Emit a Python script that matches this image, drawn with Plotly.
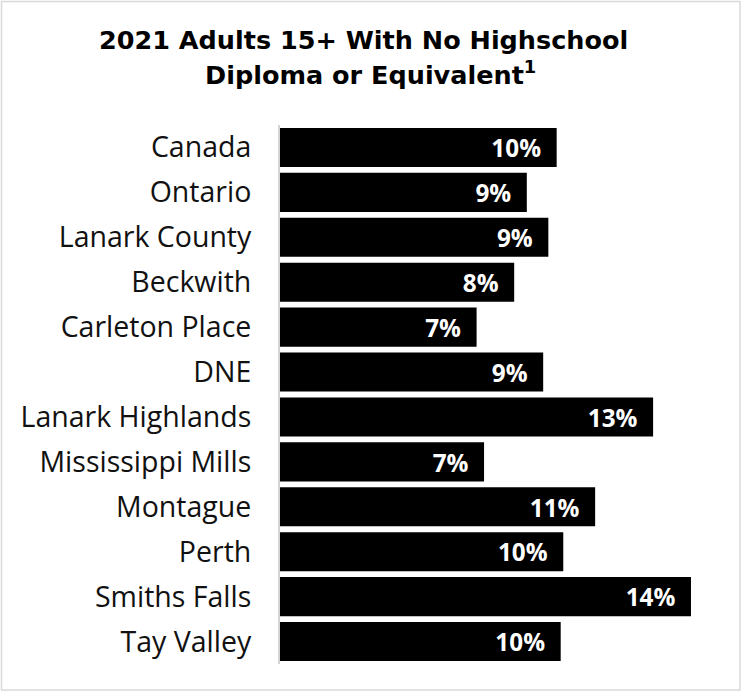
import plotly.graph_objects as go

categories = ["Canada", "Ontario", "Lanark County", "Beckwith", "Carleton Place", "DNE",
              "Lanark Highlands", "Mississippi Mills", "Montague", "Perth", "Smiths Falls", "Tay Valley"]
values = [0.0964, 0.0860, 0.0935, 0.0816, 0.0685, 0.0917,
          0.1300, 0.0711, 0.1098, 0.0987, 0.1432, 0.0978]
title_line1 = "2021 Adults 15+ With No Highschool"
title_line2 = "Diploma or Equivalent<sup>1</sup>"

FONT = "Open Sans"
TFONT = "DejaVu Sans"
fig = go.Figure(go.Bar(
    x=values, y=categories, orientation="h",
    marker=dict(color="#000000", line=dict(width=0)),
    texttemplate="%{x:.0%}\u00a0\u00a0",
    textposition="inside", insidetextanchor="end",
    textfont=dict(family=FONT, size=25, color="#ffffff", weight="bold"),
    width=0.87,
    hoverinfo="skip",
))

L, T, W, H = 280, 125, 435, 539
def py(y):
    return (T + H - y) / H
def px(x):
    return (x - L) / W

fig.update_layout(
    width=743, height=692,
    margin=dict(l=L, r=743 - L - W, t=T, b=692 - T - H),
    paper_bgcolor="#ffffff", plot_bgcolor="#ffffff",
    showlegend=False,
    xaxis=dict(range=[0, W / 2870], visible=False, fixedrange=True),
    yaxis=dict(autorange="reversed", showline=True, linecolor="#d4d4d4", linewidth=2,
               ticks="", showgrid=False, ticklabelstandoff=21,
               tickfont=dict(family=FONT, size=28.5, color="#111111")),
    uniformtext=dict(minsize=10, mode="show"),
    annotations=[
        dict(text="<b>" + title_line1 + "</b>", xref="paper", yref="paper",
             x=px(363), y=py(40), xanchor="center", yanchor="middle", showarrow=False,
             font=dict(family=TFONT, size=25.5, color="#000000")),
        dict(text="<b>" + title_line2 + "</b>", xref="paper", yref="paper",
             x=px(370), y=py(73), xanchor="center", yanchor="middle", showarrow=False,
             font=dict(family=TFONT, size=25.5, color="#000000")),
    ],
    shapes=[dict(type="rect", xref="paper", yref="paper",
                 x0=px(1.5), x1=px(740),
                 y0=py(690), y1=py(1.5),
                 line=dict(color="#d9d9d9", width=1.5), fillcolor="rgba(0,0,0,0)", layer="below")],
)

fig.write_html("out.html", config={"displayModeBar": False},
               post_script="document.body.style.margin='0';")
